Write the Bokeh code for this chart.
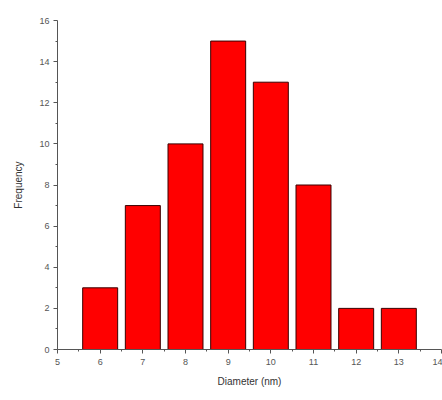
from bokeh.plotting import figure
from bokeh.embed import file_html
from bokeh.resources import INLINE
from bokeh.models import Range1d, FixedTicker, ColumnDataSource

diameters = [6, 7, 8, 9, 10, 11, 12, 13]
frequency = [3, 7, 10, 15, 13, 8, 2, 2]
x_ticks = [5, 6, 7, 8, 9, 10, 11, 12, 13, 14]
y_ticks = [0, 2, 4, 6, 8, 10, 12, 14, 16]

src = ColumnDataSource(dict(x=diameters, top=frequency))

p = figure(width=442, height=400, output_backend="svg", toolbar_location=None,
           x_range=Range1d(5, 14), y_range=Range1d(0, 16),
           min_border_left=57, min_border_right=1, min_border_top=20, min_border_bottom=51)
p.outline_line_color = None
p.grid.grid_line_color = None
p.background_fill_color = "white"

p.vbar(x="x", top="top", bottom=0, width=0.82, source=src,
       fill_color="#ff0000", line_color="#3a0000", line_width=1)

for ax in (p.xaxis[0], p.yaxis[0]):
    ax.axis_line_color = "#555555"
    ax.major_tick_line_color = "#555555"
    ax.minor_tick_line_color = "#555555"
    ax.major_label_text_color = "#555555"
    ax.axis_label_text_color = "#333333"
    ax.major_label_text_font = "Liberation Sans"
    ax.axis_label_text_font = "Liberation Sans"
    ax.major_label_text_font_size = "9px"
    ax.axis_label_text_font_size = "10px"
    ax.axis_label_text_font_style = "normal"
    ax.major_tick_in = 0
    ax.major_tick_out = 4
    ax.minor_tick_in = 0
    ax.minor_tick_out = 2

p.xaxis.ticker = FixedTicker(ticks=x_ticks, minor_ticks=[v + 0.5 for v in x_ticks[:-1]])
p.yaxis.ticker = FixedTicker(ticks=y_ticks, minor_ticks=[v + 1 for v in y_ticks[:-1]])
p.xaxis.axis_label = "Diameter (nm)"
p.yaxis.axis_label = "Frequency"
p.xaxis.major_label_standoff = 5
p.xaxis.axis_label_standoff = 8
p.yaxis.major_label_standoff = 4
p.yaxis.axis_label_standoff = 12

open("out.html", "w").write(file_html(p, INLINE))
